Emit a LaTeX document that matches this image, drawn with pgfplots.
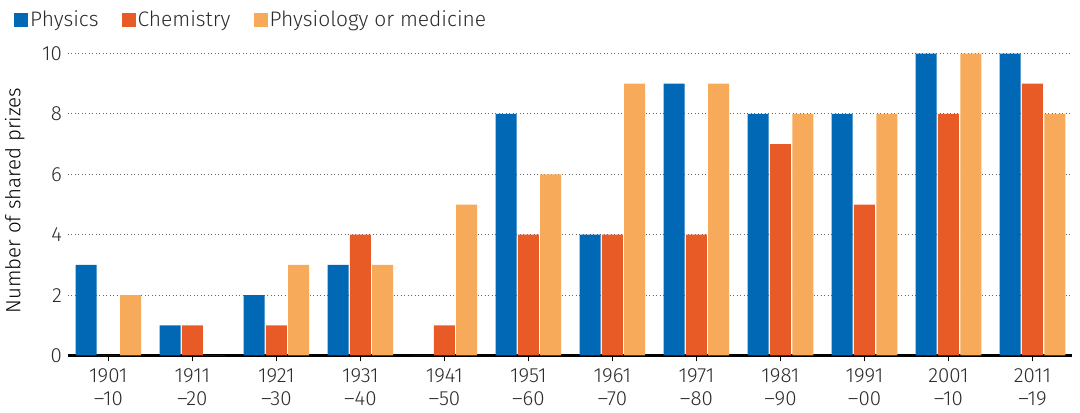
\documentclass[border=0pt]{standalone}
\usepackage{fontspec}
\setmainfont{Fira Sans Light}
\usepackage{pgfplots}
\pgfplotsset{compat=1.18}
\definecolor{phys}{HTML}{0068B5}
\definecolor{chem}{HTML}{E85A26}
\definecolor{med}{HTML}{F6AA5A}
\definecolor{txt}{HTML}{2B2B2B}
\begin{document}
\fontsize{20.5}{24}\selectfont
\begin{tikzpicture}
\path[use as bounding box] (-68pt,-57pt) rectangle (1012pt,355.5pt);
\begin{axis}[
  at={(0,0)}, anchor=south west,
  scale only axis, width=1004pt, height=306.5pt,
  ybar=1.3pt, bar width=21pt,
  xmin=-0.48, xmax=11.47, ymin=0, ymax=10.15,
  xtick={0,...,11},
  xticklabels={1901\\–10,1911\\–20,1921\\–30,1931\\–40,1941\\–50,1951\\–60,1961\\–70,1971\\–80,1981\\–90,1991\\–00,2001\\–10,2011\\–19},
  xticklabel style={align=center, text=txt, font=\fontsize{20.5}{23.5}\selectfont},
  ytick={0,2,...,10},
  yticklabel style={text=txt, xshift=1pt},
  /pgf/number format/assume math mode=true,
  axis x line*=bottom, axis y line*=left,
  y axis line style={draw=none},
  ytick style={draw=none},
  x axis line style={line width=2.5pt, black},
  xtick style={draw=black, line width=0.8pt},
  xtick align=outside, major tick length=6pt,
  ymajorgrids,
  grid style={draw=gray!80!black, line width=0.9pt, dash pattern=on 0.9pt off 2.6pt},
  ylabel={Number of shared prizes},
  ylabel style={text=txt, font=\fontsize{21.5}{24}\selectfont},
  every axis y label/.style={at={(axis description cs:-0.053,0.506)}, rotate=90, anchor=center},
  legend style={draw=none, fill=none, legend columns=-1,
    at={(axis description cs:-0.0538,1.093)}, anchor=west,
    inner sep=0pt, text=txt, font=\fontsize{21}{24}\selectfont,
    /tikz/every even column/.append style={column sep=21pt}},
  legend image code/.code={\fill[#1] (0pt,-7pt) rectangle (14pt,7pt);},
]
\addplot[fill=phys, draw=none] coordinates {(0,3) (1,1) (2,2) (3,3) (4,0) (5,8) (6,4) (7,9) (8,8) (9,8) (10,10) (11,10)};
\addplot[fill=chem, draw=none] coordinates {(0,0) (1,1) (2,1) (3,4) (4,1) (5,4) (6,4) (7,4) (8,7) (9,5) (10,8) (11,9)};
\addplot[fill=med, draw=none] coordinates {(0,2) (1,0) (2,3) (3,3) (4,5) (5,6) (6,9) (7,9) (8,8) (9,8) (10,10) (11,8)};
\legend{Physics,Chemistry,Physiology or medicine}
\end{axis}
\end{tikzpicture}
\end{document}
